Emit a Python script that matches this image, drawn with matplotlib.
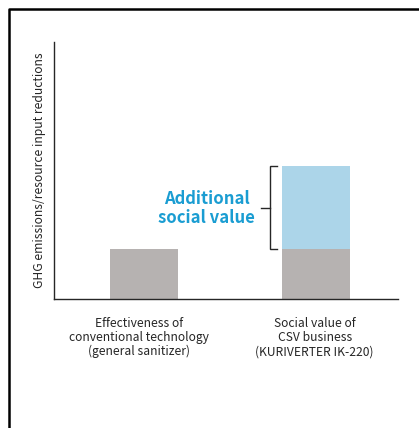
import matplotlib
matplotlib.use("Agg")
import matplotlib.pyplot as plt
import matplotlib.transforms as mtransforms
from matplotlib.lines import Line2D

plt.rcParams["font.family"] = ["Noto Sans CJK JP", "DejaVu Sans"]

categories = [
    "Effectiveness of\nconventional technology\n(general sanitizer)",
    "Social value of\nCSV business\n(KURIVERTER IK-220)",
]
base_values = [1.95, 1.93]
additional_values = [0.0, 3.25]
ylabel = "GHG emissions/resource input reductions"
annotation = "Additional\nsocial value"

GRAY = "#b6b2b1"
LIGHT_BLUE = "#acd5e9"
TEXT_BLUE = "#1a9dd2"
INK = "#262626"

W, H = 419, 428
fig = plt.figure(figsize=(W / 100, H / 100), dpi=100)

# outer frame (left and top edges only)
fig.add_artist(Line2D([9 / W, 9 / W, 1], [0, 1 - 9 / H, 1 - 9 / H],
                      transform=fig.transFigure, color="black", lw=1.8))

ax = fig.add_axes([54 / W, 1 - 299 / H, (398 - 54) / W, (299 - 42) / H])
x = [0, 1]
width = 0.395
ax.bar(x, base_values, width, color=GRAY)
ax.bar(x, additional_values, width, bottom=base_values, color=LIGHT_BLUE)

ax.set_xlim(-0.524, 1.476)
ax.set_ylim(0, 10)
ax.set_yticks([])
ax.set_xticks(x)
ax.set_xticklabels(categories, fontsize=8.7, color=INK, linespacing=1.1)
ax.tick_params(axis="x", length=0, pad=13)
# nudge the category labels slightly left
for lbl, dx in zip(ax.get_xticklabels(), [-5, -1.5]):
    lbl.set_transform(lbl.get_transform()
                      + mtransforms.ScaledTranslation(dx / 100, 0, fig.dpi_scale_trans))
ax.set_ylabel(ylabel, fontsize=8.7, color=INK, labelpad=6)
for side in ("top", "right"):
    ax.spines[side].set_visible(False)
for side in ("left", "bottom"):
    ax.spines[side].set_color(INK)
    ax.spines[side].set_linewidth(1.0)

# bracket spanning the additional value
lo = base_values[1]
hi = base_values[1] + additional_values[1]
bx = 1 - width / 2 - 0.07
tick = 0.04
ax.plot([bx + tick, bx, bx, bx + tick], [hi, hi, lo, lo], color=INK, lw=1.0,
        solid_joinstyle="miter")
ax.plot([bx - 0.055, bx], [(lo + hi) / 2, (lo + hi) / 2], color=INK, lw=1.0)
ax.text(0.365, (lo + hi) / 2 - 0.03, annotation, ha="center", va="center",
        fontsize=12, fontweight="bold", color=TEXT_BLUE, linespacing=1.05)

fig.savefig("out.png", dpi=100)
